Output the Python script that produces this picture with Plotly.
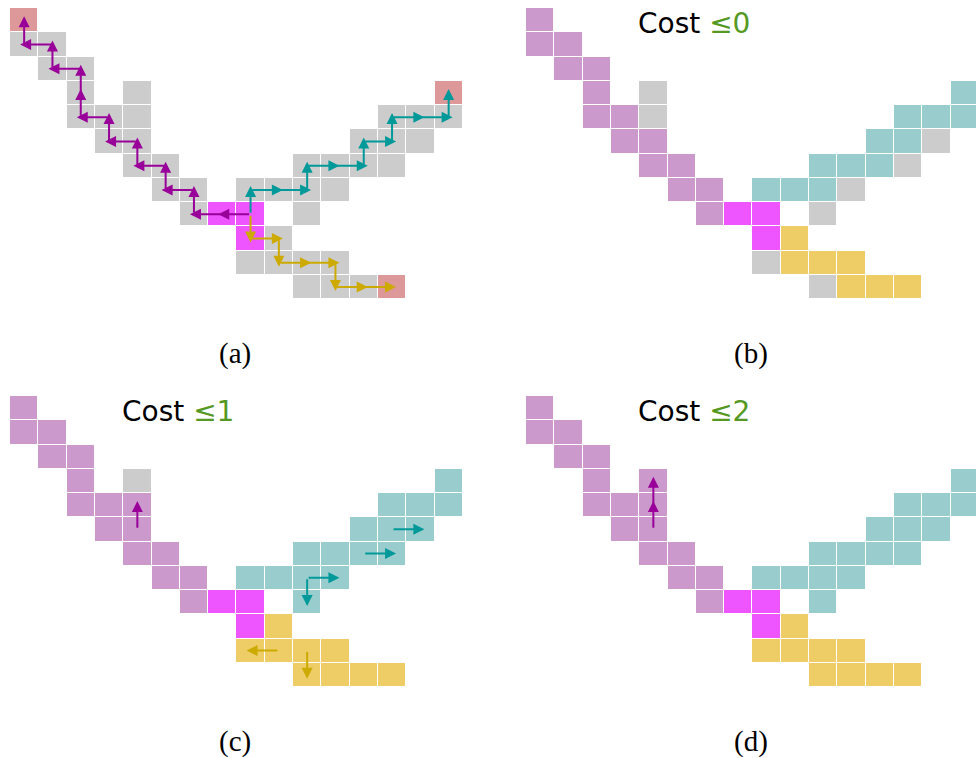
import plotly.graph_objects as go

# ---------------- data ----------------
N_ROWS = 12
N_COLS = 16

# category codes: 0 gray (unexplored), 1 purple, 2 magenta (start), 3 teal, 4 yellow, 5 red (target)
CAT_COLORS = ["#cccccc", "#cc99cc", "#ee55ff", "#99cccc", "#eecc66", "#dd9999"]

START_CELLS = [(8, 7), (8, 8), (9, 8)]
TARGET_CELLS = [(0, 0), (3, 15), (11, 13)]
GRID_CELLS = [
    (0, 0),
    (1, 0), (1, 1),
    (2, 1), (2, 2),
    (3, 2), (3, 4), (3, 15),
    (4, 2), (4, 3), (4, 4), (4, 13), (4, 14), (4, 15),
    (5, 3), (5, 4), (5, 12), (5, 13), (5, 14),
    (6, 4), (6, 5), (6, 10), (6, 11), (6, 12), (6, 13),
    (7, 5), (7, 6), (7, 8), (7, 9), (7, 10), (7, 11),
    (8, 6), (8, 7), (8, 8), (8, 10),
    (9, 8), (9, 9),
    (10, 8), (10, 9), (10, 10), (10, 11),
    (11, 10), (11, 11), (11, 12), (11, 13),
]

# cost <= 0
B_PURPLE = [(0, 0), (1, 0), (1, 1), (2, 1), (2, 2), (3, 2), (4, 2), (4, 3),
            (5, 3), (5, 4), (6, 4), (6, 5), (7, 5), (7, 6), (8, 6)]
B_TEAL = [(3, 15), (4, 13), (4, 14), (4, 15), (5, 12), (5, 13),
          (6, 10), (6, 11), (6, 12), (7, 8), (7, 9), (7, 10)]
B_YELLOW = [(9, 9), (10, 9), (10, 10), (10, 11), (11, 11), (11, 12), (11, 13)]
# cost <= 1 additions
C_PURPLE_ADD = [(4, 4)]
C_TEAL_ADD = [(5, 14), (6, 13), (7, 11), (8, 10)]
C_YELLOW_ADD = [(10, 8), (11, 10)]
# cost <= 2 additions
D_PURPLE_ADD = [(3, 4)]

# paths / arrows (row, col)
A_PURPLE_PATH = [(8, 8), (8, 7), (8, 6), (7, 6), (7, 5), (6, 5), (6, 4), (5, 4), (5, 3),
                 (4, 3), (4, 2), (3, 2), (2, 2), (2, 1), (1, 1), (1, 0), (0, 0)]
A_TEAL_PATH = [(8, 8), (7, 8), (7, 9), (7, 10), (6, 10), (6, 11), (6, 12), (5, 12),
               (5, 13), (4, 13), (4, 14), (4, 15), (3, 15)]
A_YELLOW_PATH = [(8, 8), (9, 8), (9, 9), (10, 9), (10, 10), (10, 11), (11, 11), (11, 12), (11, 13)]

C_PURPLE_PATHS = [[(5, 4), (4, 4)]]
C_TEAL_PATHS = [[(5, 13), (5, 14)], [(6, 12), (6, 13)], [(7, 10), (7, 11)], [(7, 10), (8, 10)]]
C_YELLOW_PATHS = [[(10, 9), (10, 8)], [(10, 10), (11, 10)]]
D_PURPLE_PATHS = [[(5, 4), (4, 4), (3, 4)]]

ARROW_COLORS = {"purple": "#990099", "teal": "#009999", "yellow": "#ccaa00"}

PANEL_LABELS = ["(a)", "(b)", "(c)", "(d)"]
COST_LABELS = [None, "0", "1", "2"]

# ---------------- layout helpers ----------------
W, H = 976, 758
PANEL_X = [10, 526, 10, 526]     # left pixel of column 0
PANEL_Y = [8, 8, 396, 396]       # top pixel of row 0
PITCH_X = 28.3
PITCH_Y = 24.25


def build_z(assign):
    z = [[None] * N_COLS for _ in range(N_ROWS)]
    for code, cells in assign:
        for r, c in cells:
            z[r][c] = code
    return z


gray_all = GRID_CELLS
panel_assign = [
    [(0, gray_all), (2, START_CELLS), (5, TARGET_CELLS)],
    [(0, gray_all), (1, B_PURPLE), (2, START_CELLS), (3, B_TEAL), (4, B_YELLOW)],
    [(0, gray_all), (1, B_PURPLE + C_PURPLE_ADD), (2, START_CELLS),
     (3, B_TEAL + C_TEAL_ADD), (4, B_YELLOW + C_YELLOW_ADD)],
    [(0, gray_all), (1, B_PURPLE + C_PURPLE_ADD + D_PURPLE_ADD), (2, START_CELLS),
     (3, B_TEAL + C_TEAL_ADD), (4, B_YELLOW + C_YELLOW_ADD)],
]

panel_paths = [
    [("purple", A_PURPLE_PATH), ("teal", A_TEAL_PATH), ("yellow", A_YELLOW_PATH)],
    [],
    [("purple", p) for p in C_PURPLE_PATHS] + [("teal", p) for p in C_TEAL_PATHS]
    + [("yellow", p) for p in C_YELLOW_PATHS],
    [("purple", p) for p in D_PURPLE_PATHS],
]

n = len(CAT_COLORS)
colorscale = []
for i, col in enumerate(CAT_COLORS):
    colorscale.append([i / n, col])
    colorscale.append([(i + 1) / n, col])

fig = go.Figure()
annotations = []
layout_axes = {}

for p in range(4):
    suffix = "" if p == 0 else str(p + 1)
    xa, ya = "x" + suffix, "y" + suffix
    fig.add_trace(go.Heatmap(
        z=build_z(panel_assign[p]),
        x=[c + 0.5 for c in range(N_COLS)],
        y=[r + 0.5 for r in range(N_ROWS)],
        colorscale=colorscale, zmin=-0.5, zmax=n - 0.5,
        showscale=False, xgap=1, ygap=1, hoverinfo="skip",
        xaxis=xa, yaxis=ya,
    ))
    right_px = min(W, PANEL_X[p] + PITCH_X * N_COLS)
    x_end = (right_px - PANEL_X[p]) / PITCH_X
    x0 = PANEL_X[p] / W
    x1 = right_px / W
    y_top = 1 - PANEL_Y[p] / H
    y_bot = 1 - (PANEL_Y[p] + PITCH_Y * N_ROWS) / H
    layout_axes["xaxis" + suffix] = dict(domain=[x0, x1], range=[0, x_end], visible=False,
                                         fixedrange=True, anchor=ya)
    layout_axes["yaxis" + suffix] = dict(domain=[y_bot, y_top], range=[N_ROWS, 0], visible=False,
                                         fixedrange=True, anchor=xa)

    # arrows
    ext_x = 4 / PITCH_X
    ext_y = 4 / PITCH_Y
    for cname, path in panel_paths[p]:
        for (r0, c0), (r1, c1) in zip(path[:-1], path[1:]):
            sx, sy = c0 + 0.5, r0 + 0.5
            ex, ey = c1 + 0.5, r1 + 0.5
            dx = (c1 - c0)
            dy = (r1 - r0)
            ex += ext_x * (1 if dx > 0 else -1 if dx < 0 else 0)
            ey += ext_y * (1 if dy > 0 else -1 if dy < 0 else 0)
            annotations.append(dict(
                x=ex, y=ey, ax=sx, ay=sy, xref=xa, yref=ya, axref=xa, ayref=ya,
                text="", showarrow=True, arrowhead=2, arrowsize=1.1, arrowwidth=2,
                arrowcolor=ARROW_COLORS[cname], standoff=0, startstandoff=0,
            ))

    # panel label
    annotations.append(dict(
        x=(PANEL_X[p] + 225) / W, y=1 - (PANEL_Y[p] + 345) / H, xref="paper", yref="paper",
        text=PANEL_LABELS[p], showarrow=False, xanchor="center", yanchor="middle",
        font=dict(family="Liberation Serif", size=29, color="black"),
    ))
    if COST_LABELS[p] is not None:
        annotations.append(dict(
            x=(PANEL_X[p] + 168) / W, y=1 - (PANEL_Y[p] + 15) / H, xref="paper", yref="paper",
            text='Cost <span style="color:#559922">≤' + COST_LABELS[p] + "</span>",
            showarrow=False, xanchor="center", yanchor="middle",
            font=dict(family="DejaVu Sans", size=28, color="black"),
        ))

fig.update_layout(
    width=W, height=H, margin=dict(l=0, r=0, t=0, b=0),
    paper_bgcolor="white", plot_bgcolor="rgba(0,0,0,0)",
    showlegend=False, annotations=annotations, **layout_axes,
)

fig.write_html("out.html", config={"displayModeBar": False},
               post_script="document.body.style.margin='0';document.body.style.overflow='hidden';")
